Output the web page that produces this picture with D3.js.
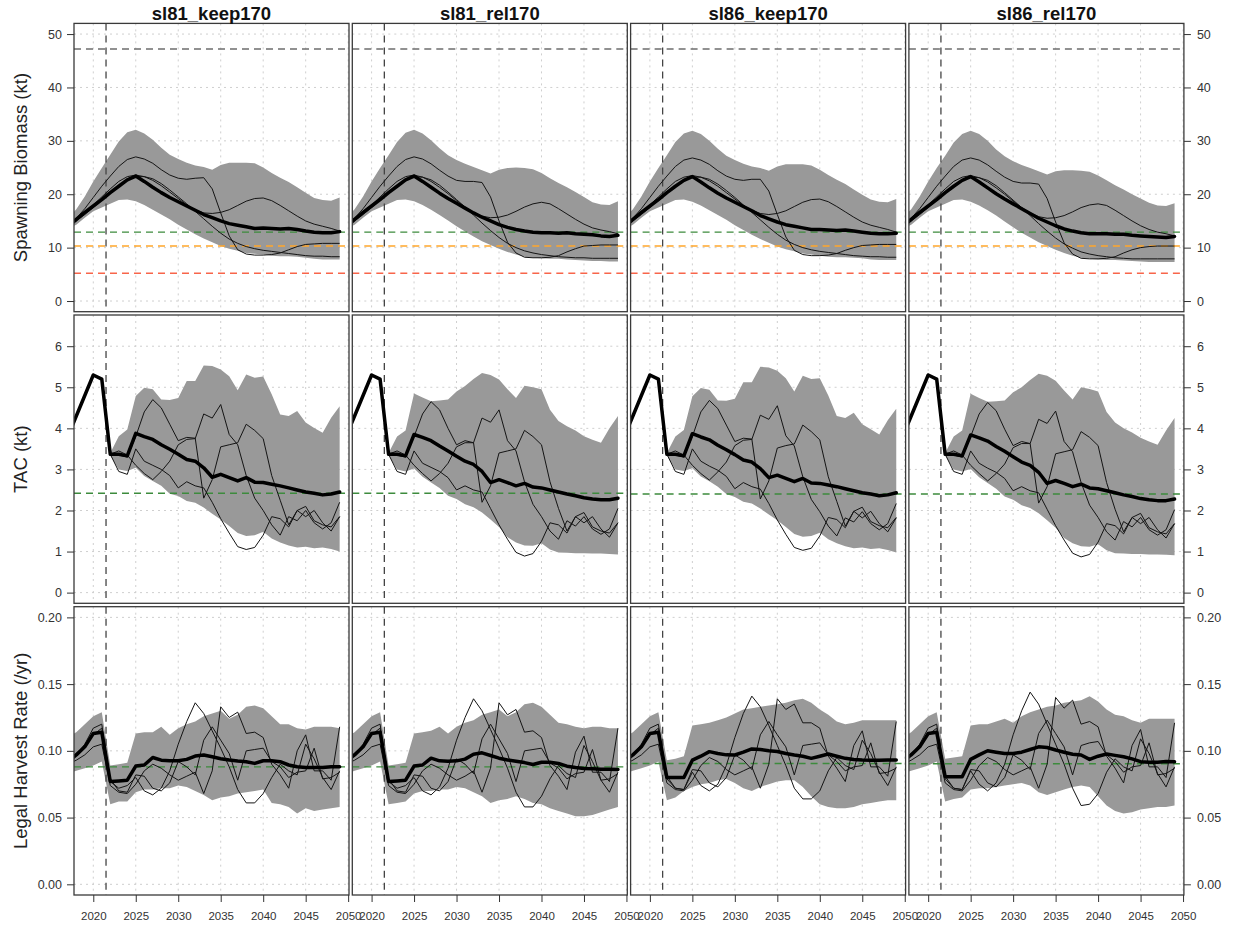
<!DOCTYPE html>
<html>
<head>
<meta charset="utf-8">
<script src="https://cdn.jsdelivr.net/npm/d3@7"></script>
<style>
  body { margin: 0; background: #fff; }
  text { font-family: Helvetica, Arial, "Liberation Sans", sans-serif; }
</style>
</head>
<body>
<div id="chart"></div>
<script>
// ---- data ----
var scenarios = ["sl81_keep170", "sl81_rel170", "sl86_keep170", "sl86_rel170"];
var histYears = d3.range(2017, 2022);   // shared history
var projYears = d3.range(2022, 2050);   // projection
var yearTicks = [2020, 2025, 2030, 2035, 2040, 2045, 2050];
var mpYear = 2021.5;

// Spawning biomass (kt)
var bioTicks = [0, 10, 20, 30, 40, 50];
var bioRefLevels = [47.2, 12.9, 10.3, 5.2];
var bioHistUpper = [15.5, 17.2, 19.6, 22.4, 24.9];
var bioHistLower = [13.5, 14.3, 15.6, 16.8, 17.5];
var bioHistMed = [13.9, 15.3, 16.6, 17.8, 19.0];
var bioHistSims = [[13.9, 15.5, 17.3, 19.4, 21.5], [13.9, 15.2, 16.6, 18.0, 19.5], [13.9, 15.0, 16.2, 17.5, 18.9]];
var bioUpper = [
  [27.4, 29.9, 31.6, 32.1, 31.4, 30.2, 28.7, 27.4, 26.6, 25.9, 25.4, 25.1, 24.6, 25.5, 25.9, 25.9, 25.9, 25.8, 25.0, 24.0, 23.1, 22.3, 21.3, 20.3, 19.3, 18.9, 18.8, 19.4],
  [27.3, 29.8, 31.5, 32.1, 31.4, 30.1, 28.6, 27.3, 26.4, 25.7, 25.1, 24.5, 23.9, 24.6, 24.9, 25.0, 24.9, 24.7, 24.0, 23.0, 22.1, 21.3, 20.4, 19.5, 18.5, 18.1, 18.0, 18.7],
  [27.3, 29.8, 31.4, 31.9, 31.3, 30.0, 28.5, 27.2, 26.4, 25.7, 25.2, 24.9, 24.4, 25.2, 25.6, 25.6, 25.6, 25.4, 24.6, 23.6, 22.7, 21.9, 20.9, 19.9, 19.0, 18.6, 18.5, 19.1],
  [27.2, 29.7, 31.3, 31.9, 31.3, 30.0, 28.4, 27.1, 26.2, 25.5, 24.9, 24.3, 23.7, 24.3, 24.5, 24.5, 24.4, 24.2, 23.5, 22.6, 21.7, 20.9, 20.0, 19.2, 18.4, 17.9, 17.8, 18.3]
];
var bioLower = [
  [18.2, 18.9, 19.0, 18.7, 18.0, 17.1, 16.2, 15.3, 14.3, 13.4, 12.5, 11.7, 11.0, 10.3, 9.8, 9.4, 9.0, 8.85, 8.7, 8.5, 8.4, 8.4, 8.3, 8.1, 7.9, 7.8, 7.8, 7.8],
  [18.2, 18.9, 19.0, 18.7, 18.0, 17.1, 16.1, 15.1, 14.0, 13.0, 12.1, 11.2, 10.5, 9.8, 9.2, 8.7, 8.3, 8.1, 8.0, 7.9, 7.9, 7.8, 7.7, 7.6, 7.5, 7.5, 7.4, 7.4],
  [18.2, 18.9, 19.0, 18.6, 17.9, 17.0, 16.1, 15.2, 14.2, 13.3, 12.4, 11.6, 10.9, 10.2, 9.7, 9.3, 8.9, 8.7, 8.5, 8.3, 8.2, 8.2, 8.1, 8.0, 7.8, 7.7, 7.7, 7.7],
  [18.2, 18.9, 19.0, 18.6, 17.9, 17.0, 16.0, 14.9, 13.8, 12.8, 11.9, 11.0, 10.3, 9.6, 9.0, 8.5, 8.1, 7.9, 7.8, 7.7, 7.7, 7.6, 7.5, 7.4, 7.3, 7.3, 7.3, 7.3]
];
var bioMed = [
  [20.3, 21.5, 22.7, 23.4, 22.4, 21.3, 20.3, 19.4, 18.6, 17.8, 17.0, 16.2, 15.6, 15.0, 14.5, 14.2, 13.9, 13.6, 13.7, 13.6, 13.5, 13.6, 13.4, 13.1, 12.9, 12.8, 12.8, 13.0],
  [20.3, 21.5, 22.7, 23.4, 22.4, 21.3, 20.2, 19.2, 18.3, 17.4, 16.5, 15.7, 15.0, 14.3, 13.8, 13.4, 13.1, 12.9, 12.8, 12.8, 12.7, 12.8, 12.6, 12.5, 12.4, 12.2, 12.1, 12.3],
  [20.3, 21.5, 22.6, 23.3, 22.3, 21.2, 20.2, 19.3, 18.5, 17.7, 16.9, 16.0, 15.4, 14.8, 14.3, 14.0, 13.7, 13.4, 13.4, 13.3, 13.2, 13.3, 13.1, 12.9, 12.7, 12.6, 12.6, 12.7],
  [20.3, 21.5, 22.6, 23.3, 22.3, 21.2, 20.1, 19.1, 18.2, 17.3, 16.4, 15.5, 14.8, 14.1, 13.5, 13.1, 12.8, 12.6, 12.6, 12.6, 12.5, 12.5, 12.3, 12.2, 12.1, 12.0, 11.9, 12.1]
];
var bioSimA = [
  [23.4, 25.2, 26.5, 27.0, 26.6, 25.8, 24.6, 23.6, 23.0, 22.8, 23.0, 23.1, 21.0, 16.5, 12.2, 9.6, 8.8, 8.6, 8.6, 8.7, 9.0, 9.6, 10.2, 10.6, 10.7, 10.8, 10.8, 10.8],
  [23.4, 25.2, 26.5, 27.0, 26.6, 25.7, 24.5, 23.4, 22.6, 22.4, 22.4, 22.2, 19.5, 15.0, 11.0, 9.0, 8.2, 8.1, 8.1, 8.2, 8.5, 9.2, 9.8, 10.3, 10.4, 10.5, 10.5, 10.5],
  [23.4, 25.2, 26.4, 26.8, 26.4, 25.6, 24.4, 23.4, 22.8, 22.6, 22.8, 22.8, 20.6, 16.2, 12.0, 9.5, 8.7, 8.5, 8.5, 8.6, 8.9, 9.5, 10.0, 10.4, 10.5, 10.6, 10.6, 10.6],
  [23.4, 25.2, 26.4, 26.8, 26.4, 25.5, 24.3, 23.2, 22.4, 22.1, 22.1, 21.9, 19.2, 14.8, 10.9, 8.8, 8.0, 7.9, 7.9, 8.0, 8.3, 9.0, 9.6, 10.0, 10.2, 10.3, 10.3, 10.3]
];
var bioSimB = [
  [21.0, 22.4, 23.3, 23.6, 23.3, 22.6, 21.6, 20.4, 19.2, 18.0, 17.1, 16.5, 16.4, 16.6, 17.1, 17.9, 18.7, 19.2, 19.3, 18.8, 17.9, 16.9, 15.9, 15.0, 14.4, 14.0, 13.6, 13.1],
  [21.0, 22.4, 23.3, 23.6, 23.2, 22.4, 21.3, 20.1, 18.8, 17.6, 16.6, 15.9, 15.6, 15.7, 16.1, 16.8, 17.6, 18.2, 18.5, 18.2, 17.3, 16.3, 15.3, 14.4, 13.7, 13.3, 13.0, 12.6],
  [21.0, 22.4, 23.2, 23.5, 23.2, 22.5, 21.5, 20.3, 19.1, 17.9, 17.0, 16.4, 16.2, 16.4, 16.9, 17.7, 18.5, 19.0, 19.1, 18.6, 17.7, 16.7, 15.7, 14.8, 14.2, 13.8, 13.4, 12.9],
  [21.0, 22.4, 23.2, 23.5, 23.1, 22.3, 21.2, 20.0, 18.7, 17.5, 16.5, 15.8, 15.5, 15.6, 16.0, 16.7, 17.5, 18.0, 18.2, 17.9, 17.0, 16.0, 15.0, 14.1, 13.4, 12.9, 12.6, 12.2]
];
var bioSimC = [
  [20.2, 21.6, 22.7, 23.3, 23.3, 22.9, 22.0, 20.8, 19.5, 18.2, 16.8, 15.4, 14.0, 12.7, 11.6, 10.8, 10.2, 9.8, 9.5, 9.3, 9.1, 8.9, 8.7, 8.5, 8.4, 8.4, 8.3, 8.3],
  [20.2, 21.6, 22.7, 23.3, 23.2, 22.7, 21.7, 20.4, 19.0, 17.6, 16.1, 14.6, 13.2, 11.9, 10.8, 10.0, 9.4, 9.0, 8.7, 8.5, 8.3, 8.2, 8.1, 8.1, 8.0, 8.0, 8.0, 8.0],
  [20.2, 21.6, 22.6, 23.2, 23.2, 22.8, 21.9, 20.7, 19.4, 18.0, 16.6, 15.2, 13.8, 12.5, 11.4, 10.6, 10.0, 9.6, 9.3, 9.1, 8.9, 8.7, 8.5, 8.4, 8.3, 8.3, 8.2, 8.2],
  [20.2, 21.6, 22.6, 23.2, 23.1, 22.6, 21.6, 20.3, 18.9, 17.5, 16.0, 14.5, 13.1, 11.8, 10.7, 9.9, 9.2, 8.8, 8.5, 8.3, 8.1, 8.0, 7.9, 7.9, 7.9, 7.9, 7.9, 7.9]
];

// TAC (kt)
var tacTicks = [0, 1, 2, 3, 4, 5, 6];
var tacRefLevel = [2.42, 2.42, 2.40, 2.40];
var tacHistMed = [3.8, 4.3, 4.8, 5.3, 5.2];
var tacUpper = [
  [3.4, 3.81, 3.97, 4.79, 4.99, 4.95, 4.7, 4.69, 4.74, 5.15, 5.15, 5.53, 5.52, 5.43, 5.27, 4.93, 5.31, 5.23, 5.26, 4.83, 4.34, 4.3, 4.42, 4.14, 4.01, 3.89, 4.26, 4.54],
  [3.4, 3.8, 3.95, 4.85, 4.75, 4.66, 4.68, 4.7, 4.9, 5.03, 5.2, 5.35, 5.3, 5.19, 4.95, 4.74, 5.04, 5.0, 4.95, 4.45, 4.18, 4.05, 3.95, 3.81, 3.72, 3.65, 4.0, 4.3],
  [3.4, 3.8, 3.96, 4.78, 4.98, 4.94, 4.68, 4.67, 4.72, 5.12, 5.12, 5.5, 5.48, 5.4, 5.22, 4.9, 5.28, 5.2, 5.22, 4.8, 4.3, 4.25, 4.38, 4.1, 3.98, 3.85, 4.2, 4.48],
  [3.4, 3.8, 3.95, 4.84, 4.74, 4.65, 4.66, 4.68, 4.88, 5.0, 5.18, 5.33, 5.28, 5.16, 4.92, 4.7, 5.0, 4.96, 4.9, 4.4, 4.14, 4.0, 3.9, 3.77, 3.68, 3.6, 3.95, 4.25]
];
var tacLower = [
  [3.34, 3.0, 2.96, 3.04, 2.84, 2.72, 2.6, 2.41, 2.35, 2.23, 2.19, 2.07, 1.92, 1.78, 1.62, 1.45, 1.38, 1.4, 1.48, 1.32, 1.22, 1.15, 1.1, 1.12, 1.08, 1.1, 1.06, 1.0],
  [3.34, 3.0, 2.95, 3.02, 2.82, 2.68, 2.55, 2.36, 2.28, 2.15, 2.08, 1.95, 1.78, 1.6, 1.35, 1.22, 1.15, 1.14, 1.2, 1.05, 0.98, 0.97, 0.96, 0.96, 0.95, 0.95, 0.94, 0.93],
  [3.34, 3.0, 2.96, 3.03, 2.83, 2.71, 2.58, 2.4, 2.33, 2.21, 2.17, 2.05, 1.9, 1.76, 1.6, 1.43, 1.36, 1.38, 1.46, 1.3, 1.2, 1.13, 1.08, 1.1, 1.06, 1.08, 1.04, 0.98],
  [3.34, 3.0, 2.95, 3.01, 2.81, 2.67, 2.53, 2.34, 2.26, 2.13, 2.06, 1.93, 1.76, 1.58, 1.33, 1.2, 1.13, 1.12, 1.18, 1.03, 0.96, 0.95, 0.94, 0.94, 0.93, 0.93, 0.92, 0.91]
];
var tacMed = [
  [3.37, 3.37, 3.33, 3.88, 3.8, 3.73, 3.6, 3.49, 3.37, 3.24, 3.2, 3.04, 2.81, 2.88, 2.8, 2.72, 2.8, 2.69, 2.68, 2.64, 2.6, 2.55, 2.5, 2.45, 2.42, 2.38, 2.4, 2.45],
  [3.37, 3.37, 3.33, 3.85, 3.78, 3.7, 3.57, 3.45, 3.32, 3.2, 3.12, 2.95, 2.68, 2.75, 2.68, 2.6, 2.66, 2.57, 2.55, 2.5, 2.45, 2.4, 2.36, 2.31, 2.28, 2.26, 2.26, 2.3],
  [3.37, 3.37, 3.33, 3.87, 3.79, 3.72, 3.59, 3.48, 3.36, 3.23, 3.18, 3.02, 2.8, 2.86, 2.78, 2.7, 2.78, 2.67, 2.66, 2.62, 2.58, 2.53, 2.48, 2.43, 2.4, 2.36, 2.38, 2.43],
  [3.37, 3.37, 3.33, 3.84, 3.77, 3.69, 3.56, 3.44, 3.31, 3.18, 3.1, 2.93, 2.66, 2.73, 2.66, 2.58, 2.64, 2.55, 2.53, 2.48, 2.43, 2.38, 2.34, 2.29, 2.26, 2.24, 2.24, 2.28]
];
var tacSimA = [
  [3.37, 3.35, 3.3, 3.8, 4.4, 4.7, 4.5, 4.1, 3.7, 3.78, 3.76, 2.3, 2.75, 3.55, 3.6, 3.65, 4.1, 3.95, 3.75, 2.85, 2.25, 1.65, 2.0, 1.85, 2.0, 1.7, 1.5, 1.85],
  [3.37, 3.35, 3.3, 3.8, 4.35, 4.65, 4.45, 4.0, 3.6, 3.7, 3.65, 2.2, 2.6, 3.4, 3.45, 3.5, 3.95, 3.8, 3.6, 2.7, 2.05, 1.5, 1.85, 1.7, 1.85, 1.55, 1.35, 1.7],
  [3.37, 3.35, 3.3, 3.8, 4.4, 4.68, 4.48, 4.08, 3.68, 3.76, 3.74, 2.28, 2.72, 3.52, 3.58, 3.62, 4.08, 3.92, 3.72, 2.82, 2.22, 1.62, 1.98, 1.82, 1.98, 1.68, 1.48, 1.82],
  [3.37, 3.35, 3.3, 3.8, 4.35, 4.63, 4.43, 3.98, 3.58, 3.68, 3.63, 2.18, 2.58, 3.38, 3.43, 3.48, 3.92, 3.78, 3.58, 2.68, 2.03, 1.48, 1.83, 1.68, 1.83, 1.53, 1.33, 1.68]
];
var tacSimB = [
  [3.37, 3.45, 3.35, 3.1, 2.9, 2.75, 2.95, 3.2, 3.6, 3.73, 3.75, 4.35, 4.25, 4.58, 3.85, 3.6, 2.85, 2.3, 2.0, 1.65, 1.4, 1.85, 1.75, 2.0, 1.7, 1.55, 1.7, 2.2],
  [3.37, 3.45, 3.35, 3.1, 2.9, 2.72, 2.9, 3.15, 3.55, 3.65, 3.65, 4.25, 4.15, 4.45, 3.7, 3.45, 2.7, 2.15, 1.85, 1.5, 1.3, 1.75, 1.62, 1.85, 1.55, 1.42, 1.55, 2.05],
  [3.37, 3.45, 3.35, 3.1, 2.9, 2.74, 2.94, 3.18, 3.58, 3.71, 3.73, 4.32, 4.22, 4.55, 3.82, 3.57, 2.82, 2.27, 1.97, 1.62, 1.38, 1.82, 1.72, 1.97, 1.68, 1.53, 1.68, 2.17],
  [3.37, 3.45, 3.35, 3.1, 2.9, 2.72, 2.9, 3.13, 3.53, 3.63, 3.63, 4.22, 4.12, 4.42, 3.68, 3.43, 2.68, 2.13, 1.83, 1.48, 1.28, 1.73, 1.6, 1.83, 1.53, 1.4, 1.53, 2.02]
];
var tacSimC = [
  [3.37, 2.95, 2.88, 3.5, 3.2, 3.1, 3.0, 2.85, 2.55, 2.7, 2.6, 2.55, 2.2, 1.8, 1.45, 1.12, 1.05, 1.1, 1.4, 1.85, 1.8, 1.6, 2.0, 2.1, 1.75, 1.65, 1.6, 1.85],
  [3.37, 2.95, 2.88, 3.45, 3.15, 3.05, 2.95, 2.8, 2.5, 2.6, 2.5, 2.45, 2.05, 1.65, 1.3, 0.98, 0.89, 0.95, 1.25, 1.7, 1.65, 1.45, 1.85, 1.95, 1.6, 1.5, 1.45, 1.7],
  [3.37, 2.95, 2.88, 3.5, 3.2, 3.08, 2.98, 2.83, 2.53, 2.68, 2.58, 2.52, 2.17, 1.77, 1.42, 1.1, 1.03, 1.08, 1.38, 1.83, 1.78, 1.58, 1.98, 2.08, 1.73, 1.63, 1.58, 1.83],
  [3.37, 2.95, 2.88, 3.45, 3.15, 3.03, 2.93, 2.78, 2.48, 2.58, 2.48, 2.43, 2.03, 1.63, 1.28, 0.96, 0.87, 0.93, 1.23, 1.68, 1.63, 1.43, 1.83, 1.93, 1.58, 1.48, 1.43, 1.68]
];

// Legal harvest rate (/yr)
var hrTicks = [0, 0.05, 0.10, 0.15, 0.20];
var hrRefLevel = [0.088, 0.088, 0.0905, 0.0903];
var hrHistUpper = [0.110, 0.114, 0.120, 0.126, 0.129];
var hrHistLower = [0.083, 0.085, 0.087, 0.089, 0.092];
var hrHistMed = [0.092, 0.097, 0.103, 0.113, 0.114];
var hrHistSims = [[0.093, 0.097, 0.105, 0.117, 0.120], [0.090, 0.093, 0.097, 0.103, 0.105], [0.094, 0.098, 0.103, 0.112, 0.117]];
var hrUpper = [
  [0.089, 0.090, 0.091, 0.113, 0.114, 0.114, 0.118, 0.112, 0.117, 0.120, 0.122, 0.126, 0.128, 0.130, 0.124, 0.127, 0.133, 0.134, 0.132, 0.126, 0.120, 0.120, 0.117, 0.116, 0.118, 0.118, 0.118, 0.117],
  [0.089, 0.090, 0.091, 0.113, 0.114, 0.115, 0.118, 0.113, 0.118, 0.121, 0.123, 0.127, 0.129, 0.131, 0.126, 0.129, 0.135, 0.136, 0.133, 0.127, 0.121, 0.120, 0.118, 0.117, 0.118, 0.118, 0.117, 0.117],
  [0.093, 0.094, 0.096, 0.119, 0.120, 0.121, 0.123, 0.125, 0.128, 0.131, 0.132, 0.133, 0.134, 0.135, 0.136, 0.138, 0.139, 0.136, 0.131, 0.127, 0.122, 0.120, 0.121, 0.123, 0.123, 0.123, 0.123, 0.123],
  [0.094, 0.095, 0.096, 0.119, 0.120, 0.120, 0.122, 0.124, 0.121, 0.126, 0.129, 0.131, 0.133, 0.134, 0.136, 0.137, 0.138, 0.141, 0.137, 0.131, 0.127, 0.126, 0.123, 0.121, 0.124, 0.124, 0.124, 0.124]
];
var hrLower = [
  [0.060, 0.062, 0.062, 0.069, 0.071, 0.071, 0.072, 0.072, 0.074, 0.073, 0.070, 0.067, 0.063, 0.065, 0.066, 0.068, 0.069, 0.070, 0.071, 0.061, 0.060, 0.058, 0.053, 0.057, 0.055, 0.056, 0.057, 0.058],
  [0.060, 0.061, 0.062, 0.068, 0.070, 0.070, 0.071, 0.071, 0.073, 0.072, 0.069, 0.066, 0.061, 0.063, 0.064, 0.066, 0.064, 0.061, 0.060, 0.057, 0.055, 0.053, 0.051, 0.051, 0.052, 0.054, 0.056, 0.058],
  [0.063, 0.065, 0.070, 0.073, 0.075, 0.076, 0.078, 0.079, 0.076, 0.072, 0.070, 0.073, 0.075, 0.077, 0.078, 0.078, 0.073, 0.066, 0.060, 0.058, 0.057, 0.057, 0.058, 0.060, 0.061, 0.062, 0.063, 0.063],
  [0.062, 0.064, 0.065, 0.071, 0.072, 0.072, 0.073, 0.074, 0.075, 0.076, 0.074, 0.069, 0.067, 0.069, 0.071, 0.073, 0.074, 0.073, 0.066, 0.059, 0.055, 0.053, 0.054, 0.056, 0.057, 0.058, 0.058, 0.059]
];
var hrMed = [
  [0.077, 0.0775, 0.078, 0.0886, 0.0894, 0.095, 0.093, 0.0926, 0.0926, 0.0936, 0.0961, 0.0969, 0.0956, 0.0941, 0.0931, 0.0924, 0.0919, 0.0906, 0.0926, 0.0926, 0.0919, 0.0894, 0.0881, 0.0876, 0.0876, 0.0876, 0.0881, 0.0881],
  [0.077, 0.0775, 0.078, 0.0886, 0.0894, 0.0945, 0.0925, 0.0922, 0.0925, 0.0938, 0.0975, 0.0985, 0.0965, 0.0945, 0.0932, 0.0922, 0.0912, 0.0898, 0.0915, 0.0915, 0.0905, 0.0885, 0.0875, 0.0868, 0.0865, 0.0862, 0.0862, 0.086],
  [0.080, 0.080, 0.080, 0.093, 0.096, 0.0994, 0.098, 0.097, 0.0969, 0.099, 0.1014, 0.101, 0.1001, 0.0995, 0.098, 0.0969, 0.096, 0.0944, 0.096, 0.0976, 0.096, 0.0944, 0.0935, 0.0931, 0.093, 0.093, 0.0931, 0.0931],
  [0.0806, 0.0806, 0.0806, 0.0936, 0.097, 0.1001, 0.099, 0.098, 0.098, 0.099, 0.101, 0.103, 0.1025, 0.1006, 0.099, 0.0975, 0.0969, 0.0936, 0.096, 0.0976, 0.0966, 0.0956, 0.094, 0.0919, 0.0915, 0.0915, 0.092, 0.0919]
];
var hrSimA = [
  [0.077, 0.072, 0.074, 0.080, 0.070, 0.067, 0.072, 0.085, 0.105, 0.122, 0.136, 0.128, 0.115, 0.102, 0.088, 0.071, 0.061, 0.061, 0.068, 0.080, 0.090, 0.085, 0.082, 0.105, 0.094, 0.080, 0.071, 0.085],
  [0.077, 0.072, 0.074, 0.080, 0.070, 0.067, 0.073, 0.087, 0.108, 0.125, 0.139, 0.130, 0.116, 0.102, 0.087, 0.069, 0.058, 0.058, 0.066, 0.079, 0.089, 0.083, 0.080, 0.104, 0.092, 0.078, 0.069, 0.084],
  [0.079, 0.072, 0.071, 0.084, 0.074, 0.070, 0.075, 0.089, 0.110, 0.128, 0.141, 0.133, 0.119, 0.104, 0.089, 0.072, 0.064, 0.064, 0.070, 0.085, 0.095, 0.089, 0.086, 0.108, 0.098, 0.084, 0.074, 0.088],
  [0.079, 0.072, 0.071, 0.085, 0.075, 0.070, 0.076, 0.090, 0.112, 0.130, 0.144, 0.135, 0.120, 0.105, 0.090, 0.072, 0.059, 0.060, 0.068, 0.084, 0.094, 0.088, 0.085, 0.109, 0.098, 0.083, 0.073, 0.088]
];
var hrSimB = [
  [0.074, 0.069, 0.068, 0.075, 0.085, 0.090, 0.087, 0.082, 0.078, 0.081, 0.084, 0.068, 0.085, 0.133, 0.125, 0.129, 0.113, 0.114, 0.110, 0.090, 0.082, 0.072, 0.100, 0.112, 0.085, 0.085, 0.078, 0.118],
  [0.074, 0.069, 0.068, 0.075, 0.085, 0.090, 0.087, 0.082, 0.078, 0.081, 0.085, 0.069, 0.087, 0.136, 0.127, 0.131, 0.114, 0.115, 0.110, 0.089, 0.081, 0.071, 0.099, 0.111, 0.084, 0.084, 0.077, 0.117],
  [0.076, 0.071, 0.070, 0.078, 0.089, 0.095, 0.092, 0.086, 0.082, 0.085, 0.088, 0.072, 0.090, 0.139, 0.131, 0.135, 0.121, 0.121, 0.117, 0.096, 0.087, 0.077, 0.104, 0.115, 0.088, 0.088, 0.081, 0.122],
  [0.076, 0.071, 0.070, 0.078, 0.089, 0.095, 0.092, 0.086, 0.082, 0.085, 0.088, 0.072, 0.090, 0.140, 0.132, 0.138, 0.120, 0.122, 0.118, 0.096, 0.087, 0.076, 0.104, 0.116, 0.088, 0.088, 0.080, 0.121]
];
var hrSimC = [
  [0.079, 0.070, 0.069, 0.082, 0.081, 0.072, 0.070, 0.076, 0.092, 0.088, 0.082, 0.108, 0.118, 0.108, 0.098, 0.078, 0.100, 0.101, 0.102, 0.092, 0.088, 0.080, 0.084, 0.085, 0.102, 0.079, 0.080, 0.084],
  [0.079, 0.070, 0.069, 0.082, 0.081, 0.072, 0.070, 0.077, 0.094, 0.090, 0.083, 0.109, 0.120, 0.109, 0.098, 0.077, 0.100, 0.101, 0.102, 0.091, 0.087, 0.079, 0.083, 0.084, 0.101, 0.078, 0.079, 0.083],
  [0.081, 0.072, 0.071, 0.086, 0.085, 0.076, 0.073, 0.080, 0.097, 0.093, 0.086, 0.112, 0.122, 0.112, 0.103, 0.082, 0.104, 0.105, 0.106, 0.097, 0.092, 0.085, 0.088, 0.089, 0.106, 0.083, 0.084, 0.087],
  [0.081, 0.072, 0.071, 0.086, 0.085, 0.076, 0.073, 0.080, 0.097, 0.093, 0.086, 0.113, 0.123, 0.113, 0.103, 0.082, 0.104, 0.106, 0.107, 0.097, 0.092, 0.084, 0.088, 0.089, 0.106, 0.082, 0.083, 0.087]
];

// ---- layout ----
var svgWidth = 1235;
var svgHeight = 930;
var panelW = 275;
var panelH = 288.3;
var colLeft = [74, 352.3, 630.6, 908.9];
var rowTop = [23.4, 315, 606.7];

var svg = d3.select("#chart")
  .append("svg")
  .attr("width", svgWidth)
  .attr("height", svgHeight);

var xScale = d3.scaleLinear()
  .domain([2017.73, 2050.1])
  .range([0, panelW]);

var allYears = histYears.concat(projYears);

function toPts(yrs, vals) {
  return vals.map(function(v, i) { return { year: yrs[i], v: v }; });
}

// each row: how to build its panels
var rows = [
  {
    title: "Spawning Biomass (kt)", domain: [-2, 52], ticks: bioTicks, fmt: d3.format("d"),
    band: function(c) { return { years: allYears, up: bioHistUpper.concat(bioUpper[c]), lo: bioHistLower.concat(bioLower[c]) }; },
    med: function(c) { return toPts(allYears, bioHistMed.concat(bioMed[c])); },
    sims: function(c) { return [bioSimA, bioSimB, bioSimC].map(function(s, k) { return toPts(allYears, bioHistSims[k].concat(s[c])); }); },
    refs: function(c) { return bioRefLevels; },
    refColors: ["#6e6e6e", "#3d8b3d", "#ffa62b", "#f8654a"]
  },
  {
    title: "TAC (kt)", domain: [-0.26, 6.76], ticks: tacTicks, fmt: d3.format("d"),
    band: function(c) { return { years: projYears, up: tacUpper[c], lo: tacLower[c] }; },
    med: function(c) { return toPts(allYears, tacHistMed.concat(tacMed[c])); },
    sims: function(c) { return [tacSimA, tacSimB, tacSimC].map(function(s) { return toPts(allYears, tacHistMed.concat(s[c])); }); },
    refs: function(c) { return [tacRefLevel[c]]; },
    refColors: ["#3d8b3d"]
  },
  {
    title: "Legal Harvest Rate (/yr)", domain: [-0.008, 0.208], ticks: hrTicks, fmt: d3.format(".2f"),
    band: function(c) { return { years: allYears, up: hrHistUpper.concat(hrUpper[c]), lo: hrHistLower.concat(hrLower[c]) }; },
    med: function(c) { return toPts(allYears, hrHistMed.concat(hrMed[c])); },
    sims: function(c) { return [hrSimA, hrSimB, hrSimC].map(function(s, k) { return toPts(allYears, hrHistSims[k].concat(s[c])); }); },
    refs: function(c) { return [hrRefLevel[c]]; },
    refColors: ["#3d8b3d"]
  }
];

var defs = svg.append("defs");
defs.append("clipPath").attr("id", "panelClip")
  .append("rect").attr("width", panelW).attr("height", panelH);

rows.forEach(function(row, r) {
  var yScale = d3.scaleLinear().domain(row.domain).range([panelH, 0]);

  var line = d3.line()
    .x(function(d) { return xScale(d.year); })
    .y(function(d) { return yScale(d.v); });

  var area = d3.area()
    .x(function(d) { return xScale(d.year); })
    .y0(function(d) { return yScale(d.lo); })
    .y1(function(d) { return yScale(d.up); });

  scenarios.forEach(function(sc, c) {
    var g = svg.append("g")
      .attr("transform", "translate(" + colLeft[c] + "," + rowTop[r] + ")");
    var inner = g.append("g").attr("clip-path", "url(#panelClip)");

    // dotted grid
    inner.selectAll(".gx").data(yearTicks).enter().append("line")
      .attr("x1", function(d) { return xScale(d); })
      .attr("x2", function(d) { return xScale(d); })
      .attr("y1", 0).attr("y2", panelH)
      .attr("stroke", "#cfcfcf").attr("stroke-width", 1).attr("stroke-dasharray", "2,4");
    inner.selectAll(".gy").data(row.ticks).enter().append("line")
      .attr("x1", 0).attr("x2", panelW)
      .attr("y1", function(d) { return yScale(d); })
      .attr("y2", function(d) { return yScale(d); })
      .attr("stroke", "#cfcfcf").attr("stroke-width", 1).attr("stroke-dasharray", "2,4");

    // uncertainty band
    var b = row.band(c);
    var bandPts = b.years.map(function(yr, i) { return { year: yr, up: b.up[i], lo: b.lo[i] }; });
    inner.append("path").attr("d", area(bandPts)).attr("fill", "#999999");

    // reference lines
    row.refs(c).forEach(function(v, k) {
      inner.append("line")
        .attr("x1", 0).attr("x2", panelW)
        .attr("y1", yScale(v)).attr("y2", yScale(v))
        .attr("stroke", row.refColors[k]).attr("stroke-width", 1.4)
        .attr("stroke-dasharray", "7,5");
    });
    inner.append("line")
      .attr("x1", xScale(mpYear)).attr("x2", xScale(mpYear))
      .attr("y1", 0).attr("y2", panelH)
      .attr("stroke", "#444").attr("stroke-width", 1.3)
      .attr("stroke-dasharray", "7,5");

    // individual simulations
    row.sims(c).forEach(function(s) {
      inner.append("path").attr("d", line(s))
        .attr("fill", "none").attr("stroke", "#141414").attr("stroke-width", 1);
    });

    // median
    inner.append("path").attr("d", line(row.med(c)))
      .attr("fill", "none").attr("stroke", "#000").attr("stroke-width", 3.5)
      .attr("stroke-linejoin", "round").attr("stroke-linecap", "round");

    // frame
    g.append("rect").attr("width", panelW).attr("height", panelH)
      .attr("fill", "none").attr("stroke", "#3a3a3a").attr("stroke-width", 1.3);

    // axes
    if (c === 0) {
      var la = g.append("g").call(d3.axisLeft(yScale).tickValues(row.ticks).tickFormat(row.fmt).tickSize(7).tickPadding(5));
      styleAxis(la);
    }
    if (c === 3) {
      var ra = g.append("g").attr("transform", "translate(" + panelW + ",0)")
        .call(d3.axisRight(yScale).tickValues(row.ticks).tickFormat(row.fmt).tickSize(7).tickPadding(6));
      styleAxis(ra);
    }
    if (r === 2) {
      var ba = g.append("g").attr("transform", "translate(0," + panelH + ")")
        .call(d3.axisBottom(xScale).tickValues(yearTicks).tickFormat(d3.format("d")).tickSize(7).tickPadding(10));
      styleAxis(ba);
      ba.selectAll(".tick text").attr("font-size", "11.5px");
    }
    if (r === 0) {
      g.append("text")
        .attr("x", panelW / 2).attr("y", -3.5)
        .attr("text-anchor", "middle")
        .attr("font-size", "18.5px").attr("font-weight", "bold")
        .attr("fill", "#111")
        .text(sc);
    }
  });

  // row label
  svg.append("text")
    .attr("transform", "translate(26.5," + (rowTop[r] + panelH / 2) + ") rotate(-90)")
    .attr("text-anchor", "middle")
    .attr("font-size", "18.5px")
    .attr("fill", "#222")
    .text(row.title);
});

function styleAxis(a) {
  a.select(".domain").remove();
  a.selectAll(".tick line").attr("stroke", "#333").attr("stroke-width", 1);
  a.selectAll(".tick text").attr("fill", "#333").attr("font-size", "12.5px")
    .attr("font-family", "Helvetica, Arial, 'Liberation Sans', sans-serif");
}
</script>
</body>
</html>
